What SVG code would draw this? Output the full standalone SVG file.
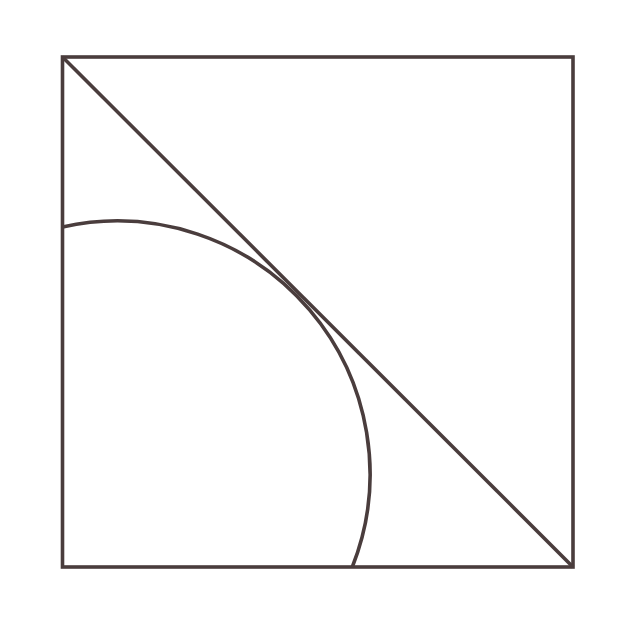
<svg xmlns="http://www.w3.org/2000/svg" width="625" height="625" viewBox="0 0 625 625">
<style>.s{fill:none;stroke:#4a3d3d;stroke-width:3.6}</style>
<rect width="625" height="625" fill="#ffffff"/>
<g id="shapes">
<rect class="s" x="62.5" y="57" width="510.5" height="510"/>
<line class="s" x1="62.5" y1="57" x2="573" y2="567"/>
<path class="s" d="M62.5 226.9 A253 253 0 0 1 352.3 567"/>
</g>
</svg>
